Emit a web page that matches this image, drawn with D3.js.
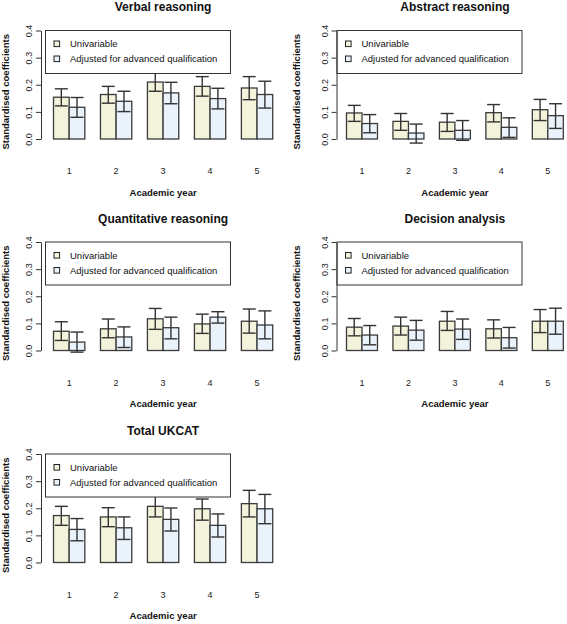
<!DOCTYPE html>
<html>
<head>
<meta charset="utf-8">
<script src="https://cdn.jsdelivr.net/npm/d3@7"></script>
<style>
  html, body { margin: 0; padding: 0; background: #fff; }
  svg { display: block; font-family: "Liberation Sans", Arial, Helvetica, sans-serif; }
</style>
</head>
<body>
<svg id="chart" width="567" height="624"></svg>
<script>
// ---------------- DATA ----------------
const years = ["1", "2", "3", "4", "5"];
const yTicks = [0.0, 0.1, 0.2, 0.3, 0.4];
const seriesNames = ["Univariable", "Adjusted for advanced qualification"];
const panelTitles = ["Verbal reasoning", "Abstract reasoning", "Quantitative reasoning", "Decision analysis", "Total UKCAT"];

// Verbal reasoning
const verbalUni   = [0.154, 0.164, 0.210, 0.194, 0.188];
const verbalUniLo = [0.122, 0.132, 0.176, 0.158, 0.145];
const verbalUniHi = [0.185, 0.194, 0.245, 0.230, 0.230];
const verbalAdj   = [0.117, 0.139, 0.170, 0.149, 0.164];
const verbalAdjLo = [0.080, 0.101, 0.130, 0.111, 0.114];
const verbalAdjHi = [0.153, 0.176, 0.209, 0.187, 0.213];

// Abstract reasoning
const abstractUni   = [0.096, 0.065, 0.062, 0.097, 0.108];
const abstractUniLo = [0.065, 0.032, 0.028, 0.063, 0.068];
const abstractUniHi = [0.124, 0.094, 0.094, 0.127, 0.146];
const abstractAdj   = [0.057, 0.022, 0.032, 0.043, 0.086];
const abstractAdjLo = [0.023, -0.015, -0.005, 0.006, 0.039];
const abstractAdjHi = [0.090, 0.055, 0.068, 0.078, 0.130];

// Quantitative reasoning
const quantUni   = [0.071, 0.080, 0.117, 0.098, 0.108];
const quantUniLo = [0.037, 0.047, 0.078, 0.063, 0.064];
const quantUniHi = [0.106, 0.116, 0.155, 0.134, 0.153];
const quantAdj   = [0.031, 0.050, 0.084, 0.123, 0.094];
const quantAdjLo = [-0.006, 0.011, 0.043, 0.101, 0.043];
const quantAdjHi = [0.068, 0.087, 0.123, 0.143, 0.146];

// Decision analysis
const decisionUni   = [0.086, 0.090, 0.108, 0.080, 0.108];
const decisionUniLo = [0.054, 0.057, 0.074, 0.046, 0.066];
const decisionUniHi = [0.118, 0.123, 0.144, 0.113, 0.151];
const decisionAdj   = [0.057, 0.075, 0.079, 0.047, 0.108];
const decisionAdjLo = [0.021, 0.038, 0.041, 0.009, 0.060];
const decisionAdjHi = [0.092, 0.111, 0.116, 0.085, 0.156];

// Total UKCAT
const totalUni   = [0.173, 0.168, 0.207, 0.198, 0.217];
const totalUniLo = [0.137, 0.132, 0.168, 0.156, 0.168];
const totalUniHi = [0.207, 0.202, 0.244, 0.234, 0.266];
const totalAdj   = [0.122, 0.128, 0.159, 0.137, 0.198];
const totalAdjLo = [0.080, 0.085, 0.116, 0.094, 0.143];
const totalAdjHi = [0.162, 0.168, 0.201, 0.179, 0.251];

// ---------------- LAYOUT ----------------
const fills = ["#F3F3DB", "#EAF3FC"];
const stroke = "#3a3a3a";

const panels = [
  { title: panelTitles[0], uni: verbalUni, uniLo: verbalUniLo, uniHi: verbalUniHi, adj: verbalAdj, adjLo: verbalAdjLo, adjHi: verbalAdjHi },
  { title: panelTitles[1], uni: abstractUni, uniLo: abstractUniLo, uniHi: abstractUniHi, adj: abstractAdj, adjLo: abstractAdjLo, adjHi: abstractAdjHi },
  { title: panelTitles[2], uni: quantUni, uniLo: quantUniLo, uniHi: quantUniHi, adj: quantAdj, adjLo: quantAdjLo, adjHi: quantAdjHi },
  { title: panelTitles[3], uni: decisionUni, uniLo: decisionUniLo, uniHi: decisionUniHi, adj: decisionAdj, adjLo: decisionAdjLo, adjHi: decisionAdjHi },
  { title: panelTitles[4], uni: totalUni, uniLo: totalUniLo, uniHi: totalUniHi, adj: totalAdj, adjLo: totalAdjLo, adjHi: totalAdjHi }
];

const cols = [
  { axisX: 41, barStart: 53.5, barEnd: 272.7, legendX: 45.5, ylabX: 9 },
  { axisX: 336.5, barStart: 346.5, barEnd: 563.3, legendX: 337, ylabX: 300 }
];
const rows = [30.5, 242, 454];
const plotH = 108.5;
const legendW = 185, legendH = 43;

const svg = d3.select("#chart");

panels.forEach((p, i) => {
  const col = cols[i % 2];
  const top = rows[Math.floor(i / 2)];
  const bottom = top + plotH;
  const g = svg.append("g");

  const y = d3.scaleLinear().domain([0, 0.4]).range([bottom, top]);
  const x = d3.scaleLinear().domain([1, 15]).range([col.barStart, col.barEnd]);
  const cx = (col.barStart + col.barEnd) / 2;

  // bars
  const series = [
    { vals: p.uni, lo: p.uniLo, hi: p.uniHi, off: 0 },
    { vals: p.adj, lo: p.adjLo, hi: p.adjHi, off: 1 }
  ];
  series.forEach((s, si) => {
    g.selectAll(null).data(s.vals).enter().append("rect")
      .attr("x", (d, k) => x(3 * k + 1 + s.off))
      .attr("width", (d, k) => x(3 * k + 2 + s.off) - x(3 * k + 1 + s.off))
      .attr("y", d => y(d))
      .attr("height", d => y(0) - y(d))
      .attr("fill", fills[si])
      .attr("stroke", stroke)
      .attr("stroke-width", 1.3);
  });
  // error bars
  series.forEach((s) => {
    const eg = g.selectAll(null).data(s.vals.map((d, k) => ({ k, lo: s.lo[k], hi: s.hi[k] })))
      .enter().append("g").attr("stroke", "#333").attr("stroke-width", 1.4).attr("fill", "none");
    const mid = d => x(3 * d.k + 1.5 + s.off);
    const hw = 6.5;
    eg.append("line").attr("x1", mid).attr("x2", mid).attr("y1", d => y(d.lo)).attr("y2", d => y(d.hi));
    eg.append("line").attr("x1", d => mid(d) - hw).attr("x2", d => mid(d) + hw).attr("y1", d => y(d.lo)).attr("y2", d => y(d.lo));
    eg.append("line").attr("x1", d => mid(d) - hw).attr("x2", d => mid(d) + hw).attr("y1", d => y(d.hi)).attr("y2", d => y(d.hi));
  });

  // legend (drawn over bars)
  const lg = g.append("g").attr("transform", `translate(${col.legendX},${top})`);
  lg.append("rect").attr("width", legendW).attr("height", legendH)
    .attr("fill", "#fff").attr("stroke", "#333").attr("stroke-width", 1);
  seriesNames.forEach((n, si) => {
    const yy = 13.3 + si * 15;
    lg.append("rect").attr("x", 8.5).attr("y", yy - 2.8).attr("width", 5.6).attr("height", 5.6)
      .attr("fill", fills[si]).attr("stroke", "#222").attr("stroke-width", 1);
    lg.append("text").attr("x", 24.5).attr("y", yy + 3.4)
      .attr("font-size", 9.5).attr("fill", "#111").text(n);
  });

  // y axis
  const ax = g.append("g").attr("transform", `translate(${col.axisX},0)`)
    .call(d3.axisLeft(y).tickValues(yTicks).tickFormat(d3.format(".1f")).tickSize(5).tickSizeOuter(0));
  ax.select(".domain").attr("stroke", "#333").attr("stroke-width", 1);
  ax.selectAll(".tick line").attr("stroke", "#333").attr("stroke-width", 1);
  ax.selectAll(".tick text")
    .attr("x", null).attr("dy", null)
    .attr("text-anchor", "middle")
    .attr("transform", "translate(-9,0) rotate(-90)")
    .attr("font-size", 9)
    .attr("font-family", "Liberation Sans, Arial, sans-serif")
    .attr("fill", "#222");

  // x labels (years)
  g.selectAll(null).data(years).enter().append("text")
    .attr("x", (d, k) => x(3 * k + 2))
    .attr("y", bottom + 35)
    .attr("text-anchor", "middle")
    .attr("font-size", 9)
    .attr("fill", "#222")
    .text(d => d);

  // titles
  g.append("text").attr("x", cx).attr("y", top - 19.5)
    .attr("text-anchor", "middle").attr("font-size", 12).attr("font-weight", "bold")
    .attr("fill", "#111").text(p.title);
  g.append("text").attr("x", cx).attr("y", bottom + 56.5)
    .attr("text-anchor", "middle").attr("font-size", 9.5).attr("font-weight", "bold")
    .attr("fill", "#111").text("Academic year");
  g.append("text")
    .attr("transform", `translate(${col.ylabX},${(top + bottom) / 2 + 7}) rotate(-90)`)
    .attr("text-anchor", "middle").attr("font-size", 9.5).attr("font-weight", "bold")
    .attr("fill", "#111").text("Standardised coefficients");
});
</script>
</body>
</html>
